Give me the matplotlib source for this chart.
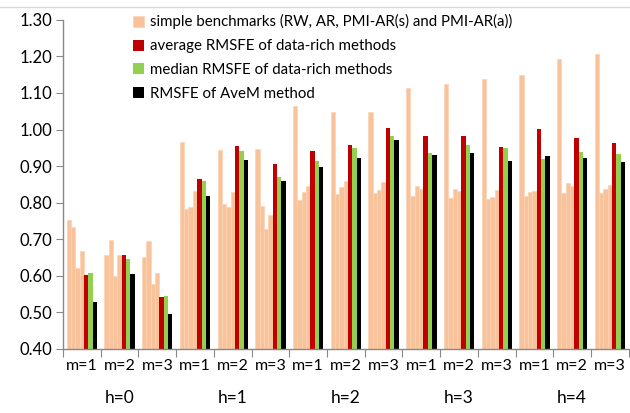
import matplotlib
matplotlib.use("Agg")
import matplotlib.pyplot as plt
import numpy as np
from matplotlib.lines import Line2D

plt.rcParams['font.family'] = ['Lato', 'DejaVu Sans']

h_labels = ["h=0", "h=1", "h=2", "h=3", "h=4"]
m_labels = ["m=1", "m=2", "m=3"]

# simple benchmarks: RW, AR, PMI-AR(s), PMI-AR(a) for each (h, m)
bench_rw = [0.753, 0.656, 0.652, 0.967, 0.944, 0.946, 1.065, 1.049, 1.047,
            1.113, 1.125, 1.139, 1.149, 1.192, 1.207]
bench_ar = [0.733, 0.699, 0.695, 0.782, 0.797, 0.791, 0.808, 0.823, 0.826,
            0.817, 0.812, 0.810, 0.817, 0.827, 0.827]
bench_pmis = [0.622, 0.600, 0.577, 0.789, 0.789, 0.728, 0.829, 0.843, 0.834,
              0.846, 0.837, 0.816, 0.829, 0.853, 0.837]
bench_pmia = [0.667, 0.658, 0.609, 0.832, 0.829, 0.766, 0.847, 0.859, 0.857,
              0.838, 0.833, 0.835, 0.831, 0.846, 0.849]
avg_rmsfe = [0.603, 0.658, 0.541, 0.864, 0.955, 0.906, 0.940, 0.957, 1.004,
             0.981, 0.981, 0.952, 1.002, 0.976, 0.963]
med_rmsfe = [0.607, 0.647, 0.545, 0.859, 0.942, 0.871, 0.914, 0.949, 0.983,
             0.935, 0.959, 0.949, 0.920, 0.939, 0.934]
avem_rmsfe = [0.529, 0.604, 0.495, 0.818, 0.917, 0.859, 0.898, 0.923, 0.971,
              0.931, 0.935, 0.913, 0.927, 0.922, 0.910]

legend_labels = ["simple benchmarks (RW, AR, PMI-AR(s) and PMI-AR(a))",
                 "average RMSFE of data-rich methods",
                 "median RMSFE of data-rich methods",
                 "RMSFE of AveM method"]

c_orange = "#F8C29A"
c_red = "#C00000"
c_green = "#92D050"
c_black = "#000000"

fig = plt.figure(figsize=(6.3, 4.13), dpi=100)
ax = fig.add_axes([0.1, 0.155, 0.898, 0.797])

n = len(bench_rw)
x = np.arange(n) + 0.5
w = 0.806 / 7
series = [(bench_rw, c_orange), (bench_ar, c_orange), (bench_pmis, c_orange),
          (bench_pmia, c_orange), (avg_rmsfe, c_red), (med_rmsfe, c_green),
          (avem_rmsfe, c_black)]
handles = []
for k, (vals, col) in enumerate(series):
    off = (k - 3) * w
    if col == c_orange:
        b = ax.bar(x + off, np.array(vals) - 0.40, width=w, bottom=0.40,
                   color=col, edgecolor='#FBD3B5', linewidth=0.5)
    else:
        b = ax.bar(x + off, np.array(vals) - 0.40, width=w, bottom=0.40,
                   color=col, edgecolor='none', linewidth=0)
    if k >= 3:
        handles.append(b)

ax.set_xlim(0, n)
ax.set_ylim(0.40, 1.30)
ax.set_yticks(np.arange(0.40, 1.301, 0.10))
ax.set_yticklabels([f"{v:.2f}" for v in np.arange(0.40, 1.301, 0.10)])
ax.set_xticks(np.arange(0, n + 1))
ax.set_xticklabels([])
ax.set_xticks(x, minor=True)
ax.set_xticklabels(m_labels * 5, minor=True)
ax.tick_params(axis='x', which='major', length=6, color='#888888', direction='out')
ax.tick_params(axis='x', which='minor', length=0, labelsize=11.5, pad=7)
ax.tick_params(axis='y', length=5, color='#888888', labelsize=12, pad=3)

for s in ['top', 'right']:
    ax.spines[s].set_visible(False)
for s in ['left', 'bottom']:
    ax.spines[s].set_color('#888888')
    ax.spines[s].set_linewidth(1.0)

for i, hl in enumerate(h_labels):
    ax.text(3 * i + 1.5, -0.148, hl, transform=ax.get_xaxis_transform(),
            ha='center', va='center', fontsize=12.5)

leg = ax.legend(handles, legend_labels, loc='upper left',
                bbox_to_anchor=(0.113, 1.035), frameon=False, fontsize=10.8,
                handlelength=0.75, handleheight=0.75, handletextpad=0.4,
                labelspacing=0.66, borderaxespad=0)

fig.add_artist(Line2D([0, 1], [0.984, 0.984], transform=fig.transFigure,
                      color='#D9D9D9', linewidth=1))

fig.savefig("out.png", dpi=100)
